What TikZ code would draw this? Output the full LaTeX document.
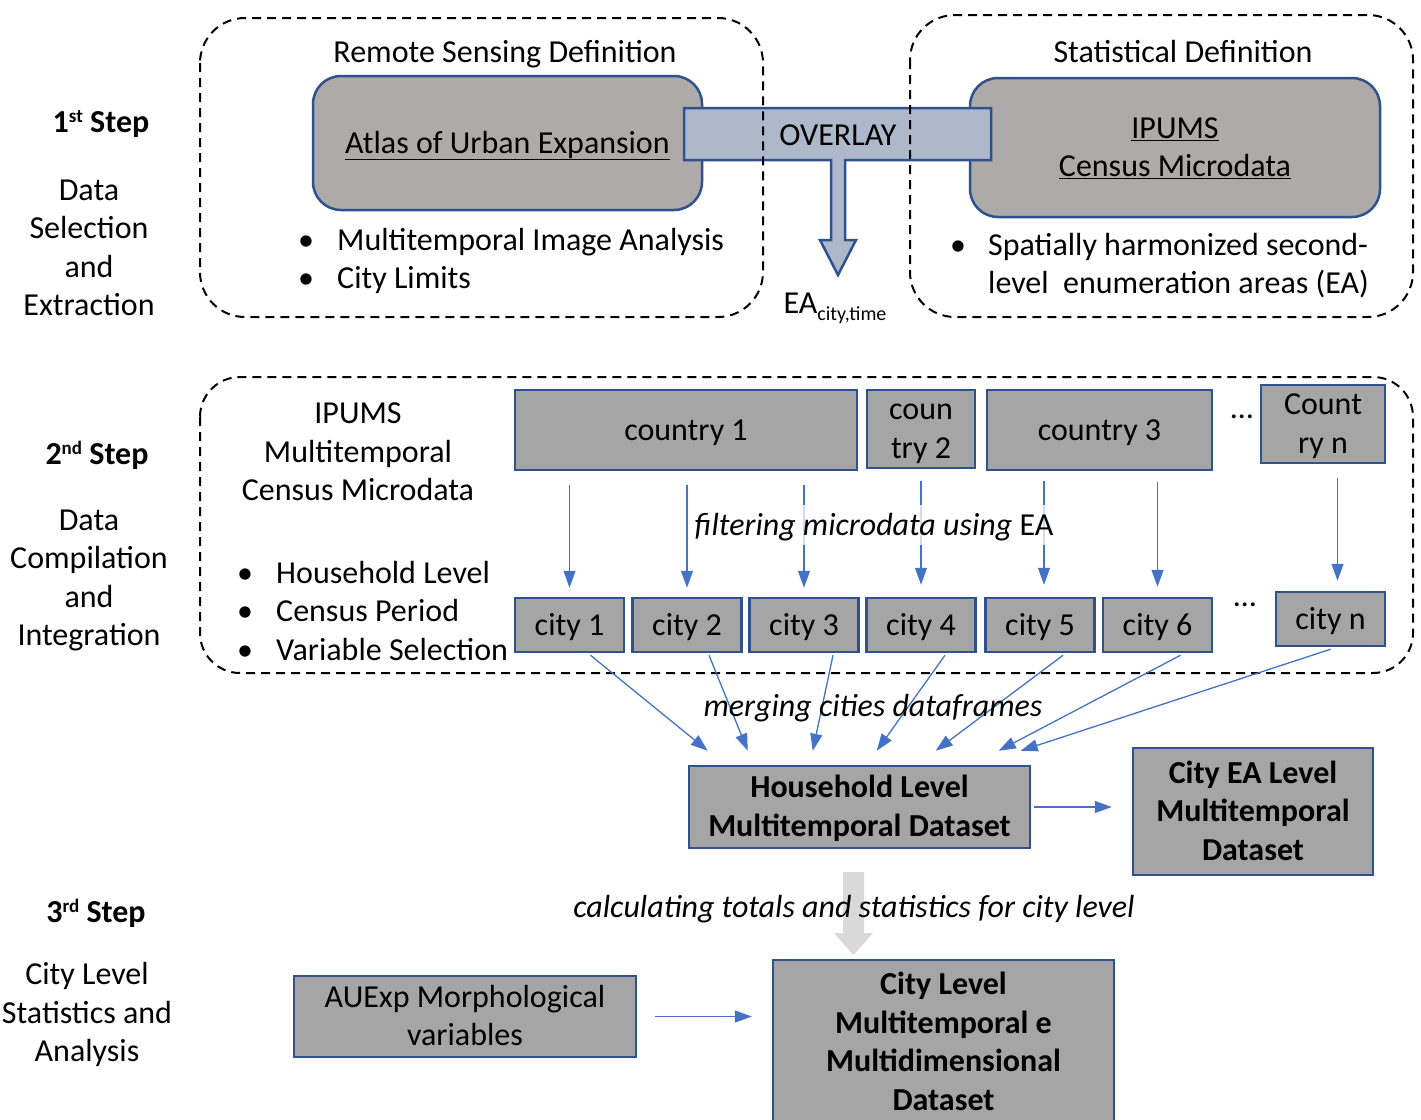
\documentclass[tikz,border=0pt]{standalone}
\usepackage{fontspec}
\setmainfont{Carlito}
\usetikzlibrary{arrows.meta,calc}
\definecolor{bord}{HTML}{2F528F}
\definecolor{boxgray}{HTML}{A5A5A5}
\definecolor{rgray}{HTML}{AEAAAA}
\definecolor{ovlfill}{HTML}{ADB9CA}
\definecolor{arr}{HTML}{4472C4}
\definecolor{lgray}{HTML}{D9D9D9}
\newcommand{\supx}[1]{\raisebox{10pt}{\fontsize{19}{22}\selectfont #1}}
\newcommand{\subx}[1]{\raisebox{-7pt}{\fontsize{20}{24}\selectfont #1}}
\newcommand{\topst}{\rule{0pt}{28pt}}
\newcommand{\botst}{\rule[-8pt]{0pt}{0pt}}
\newcommand{\tx}[1]{\topst#1\botst}
\begin{document}
\begin{tikzpicture}[x=1pt,y=-1pt,
  every node/.style={font=\fontsize{32}{38.5}\selectfont, inner sep=0pt},
  rbox/.style={draw=bord, line width=2.5pt, fill=rgray, rounded corners=28pt, align=center},
  sbox/.style={draw=bord, line width=2.5pt, fill=boxgray, align=center},
  dbox/.style={draw=black, line width=2pt, dash pattern=on 9pt off 6pt, rounded corners=45pt},
  flow/.style={draw=arr, line width=1.3pt, -{Triangle[length=17pt,width=12pt]}},
  lbl/.style={align=center},
  bld/.style={font=\fontsize{32}{38.5}\selectfont\bfseries}]
\fill[white] (0,0) rectangle (1421,1119);
\useasboundingbox (0,0) rectangle (1421,1119);

% ---------- Step 1 ----------
\node[rbox, minimum width=389pt, minimum height=134pt] (atlas) at (507.5,143) {\tx{\underline{Atlas of Urban Expansion}}};
\node[rbox, minimum width=410pt, minimum height=139pt] (ipums) at (1175,147.5) {\topst\underline{IPUMS}\\\underline{Census Microdata}\botst};
\draw[draw=bord, line width=2.5pt, fill=ovlfill] (684,108) -- (991,108) -- (991,160) -- (845,160) -- (845,240) -- (856,240) -- (838,275) -- (820,240) -- (831,240) -- (831,160) -- (684,160) -- cycle;
\node (ovltxt) at (838,135) {\tx{OVERLAY}};
\draw[dbox] (200,18) rectangle (763,317);
\draw[dbox] (910,15) rectangle (1413,317);
\node (rsdef) at (505,52) {\tx{Remote Sensing Definition}};
\node (stdef) at (1183,52) {\tx{Statistical Definition}};
\node (ea) at (835,305) {\tx{EA\subx{city,time}}};

\node (b1) at (306,240) {\tx{\textbullet}};
\node[anchor=west] (b1t) at (337,240) {\tx{Multitemporal Image Analysis}};
\node (b2) at (306,278) {\tx{\textbullet}};
\node[anchor=west] (b2t) at (337,278) {\tx{City Limits}};
\node (b3) at (958,245) {\tx{\textbullet}};
\node[anchor=west] (b3t) at (988,245) {\tx{Spatially harmonized second-}};
\node[anchor=west] (b3u) at (988,283) {\tx{level\ \ enumeration areas (EA)}};

% ---------- left labels ----------
\node (s1) at (101,122) {\tx{\textbf{1\supx{st} Step}}};
\node[lbl] (s1t) at (89,248) {\topst Data\\Selection\\and\\Extraction\botst};
\node (s2) at (97,454) {\tx{\textbf{2\supx{nd} Step}}};
\node[lbl] (s2t) at (89,578) {\topst Data\\Compilation\\and\\Integration\botst};
\node (s3) at (96,912) {\tx{\textbf{3\supx{rd} Step}}};
\node[lbl] (s3t) at (87,1013) {\topst City Level\\Statistics and\\Analysis\botst};

% ---------- Step 2 ----------
\draw[dbox, rounded corners=40pt] (200,377) rectangle (1413,673);
\node[lbl] (ipmt) at (358,452) {\topst IPUMS\\Multitemporal\\Census Microdata\botst};
\node (b4) at (245,573) {\tx{\textbullet}};
\node[anchor=west] (b4t) at (276,573) {\tx{Household Level}};
\node (b5) at (245,611) {\tx{\textbullet}};
\node[anchor=west] (b5t) at (276,611) {\tx{Census Period}};
\node (b6) at (245,650) {\tx{\textbullet}};
\node[anchor=west] (b6t) at (276,650) {\tx{Variable Selection}};

\node[sbox, minimum width=342pt, minimum height=80pt] (c1) at (686,430) {\tx{country 1}};
\node[sbox, minimum width=108pt, minimum height=78pt] (c2) at (921,429) {\topst coun\\try 2\botst};
\node[sbox, minimum width=225pt, minimum height=80pt] (c3) at (1099.5,430) {\tx{country 3}};
\node[sbox, minimum width=124pt, minimum height=78pt] (cn) at (1323,424) {\topst Count\\ry n\botst};
\node (dots1) at (1242,408) {\tx{…}};

\foreach \n/\x in {1/569.5,2/687,3/804,4/921,5/1040,6/1157.5}{
  \node[sbox, minimum width=109pt, minimum height=54pt] (city\n) at (\x,625) {\tx{city \n}};
}
\node[sbox, minimum width=109pt, minimum height=54pt] (cityn) at (1330.5,619) {\tx{city n}};
\node (dots2) at (1245,596) {\tx{…}};

\draw[flow, shorten <=14pt, shorten >=9pt] (c1.south -| city1.north) -- (city1.north);
\draw[flow, shorten <=14pt, shorten >=9pt] (c1.south -| city2.north) -- (city2.north);
\draw[flow, shorten <=14pt, shorten >=9pt] (c1.south -| city3.north) -- (city3.north);
\draw[flow, shorten <=12pt, shorten >=12pt] (c2.south -| city4.north) -- (city4.north);
\draw[flow, shorten <=10pt, shorten >=12pt] ($(c3.south -| city5.north)+(4,0)$) -- ($(city5.north)+(4,0)$);
\draw[flow, shorten <=11pt, shorten >=10pt] (c3.south -| city6.north) -- (city6.north);
\draw[flow, shorten <=14pt, shorten >=10pt] ($(cn.south -| cityn.north)+(7,0)$) -- ($(cityn.north)+(7,0)$);

\node[fill=white, fill opacity=0.75, text opacity=1, inner sep=2pt] (filt) at (874,525) {\tx{\textit{filtering microdata using} EA}};

% ---------- merging ----------
\node[sbox, bld, minimum width=341pt, minimum height=82pt] (hh) at (859.5,807) {\topst Household Level\\Multitemporal Dataset\botst};
\node[sbox, bld, minimum width=240pt, minimum height=127pt] (eal) at (1253,811.5) {\topst City EA Level\\Multitemporal\\Dataset\botst};

\coordinate (t1) at ($(hh.north west)+(20,-14)$);
\coordinate (t2) at ($(hh.north west)+(60,-14)$);
\coordinate (t3) at ($(hh.north west)+(125,-14)$);
\coordinate (t4) at ($(hh.north west)+(189,-14)$);
\coordinate (t5) at ($(hh.north west)+(248,-14)$);
\coordinate (t6) at ($(hh.north west)+(311,-14)$);
\coordinate (t7) at ($(hh.north west)+(333,-14)$);
\draw[flow] ($(city1.south)+(21,2)$) -- (t1);
\draw[flow] ($(city2.south)+(22,2)$) -- (t2);
\draw[flow] ($(city3.south)+(29,2)$) -- (t3);
\draw[flow] ($(city4.south)+(24,2)$) -- (t4);
\draw[flow] ($(city5.south)+(23,2)$) -- (t5);
\draw[flow] ($(city6.south)+(23,2)$) -- (t6);
\draw[flow] ($(cityn.south)+(0,2)$) -- (t7);
\node (merge) at (873,706) {\tx{\textit{merging cities dataframes}}};

\draw[flow, shorten <=3pt, shorten >=20pt] (hh.east) -- (hh.east -| eal.west);

% ---------- Step 3 ----------
\fill[lgray] (843,872) -- (864,872) -- (864,933) -- (873,933) -- (853.5,955) -- (834,933) -- (843,933) -- cycle;
\node (calc) at (854,907) {\tx{\textit{calculating totals and statistics for city level}}};
\node[sbox, minimum width=342pt, minimum height=81pt] (aux) at (465,1016.5) {\topst AUExp Morphological\\variables\botst};
\node[sbox, bld, minimum width=341pt, minimum height=165pt] (cl) at (943.5,1042.5) {\topst City Level\\Multitemporal e\\Multidimensional\\Dataset\botst};
\draw[flow, shorten <=18pt, shorten >=20pt] (aux.east) -- (aux.east -| cl.west);
\end{tikzpicture}
\end{document}
